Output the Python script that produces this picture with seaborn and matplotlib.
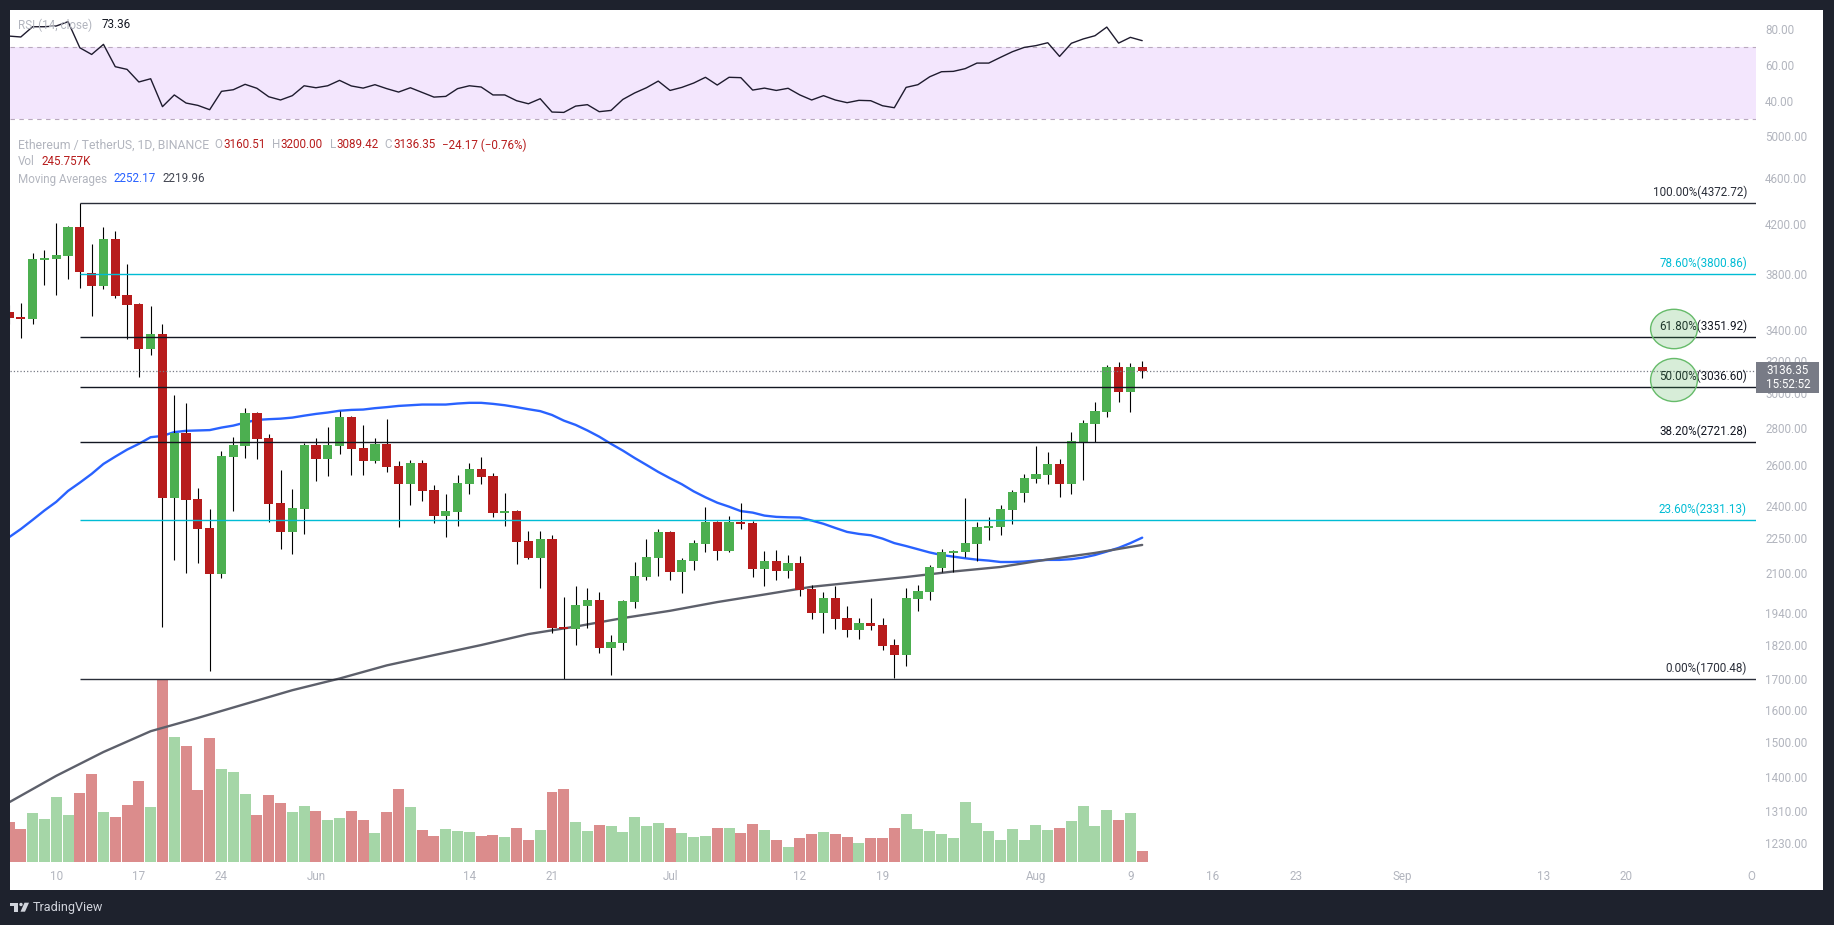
import numpy as np
import pandas as pd
import matplotlib.pyplot as plt
from matplotlib.patches import Rectangle, Ellipse, Polygon
from matplotlib.ticker import NullLocator
from matplotlib.transforms import IdentityTransform
import seaborn as sns

# day 0 is 6 May, one candle per day up to 10 Aug
OPEN = [3525, 3490, 3476, 3908, 3916, 3942, 4173, 3809, 3714, 4074,
        3646, 3582, 3276, 3373, 2437, 2773, 2432, 2296, 2096, 2644,
        2702, 2885, 2745, 2413, 2278, 2385, 2707, 2633, 2702, 2862,
        2692, 2622, 2713, 2597, 2506, 2612, 2476, 2352, 2371, 2506,
        2582, 2546, 2366, 2375, 2238, 2163, 2246, 1887, 1879, 1967,
        1990, 1810, 1827, 1982, 2083, 2163, 2278, 2104, 2150, 2224,
        2324, 2194, 2324, 2319, 2117, 2150, 2108, 2142, 2035, 1940,
        1998, 1920, 1876, 1901, 1894, 1820, 1784, 1994, 2023, 2121,
        2185, 2190, 2224, 2296, 2301, 2380, 2461, 2530, 2551, 2607,
        2506, 2723, 2822, 2891, 3161, 3008, 3160.51]
HIGH = [3570, 3589, 3963, 3987, 4206, 4181, 4372.72, 4034, 4170, 4140,
        3877, 3591, 3567, 3442, 2990, 2943, 2486, 2385, 2675, 2751,
        2914, 2891, 2767, 2576, 2481, 2718, 2745, 2807, 2896, 2868,
        2817, 2745, 2850, 2622, 2628, 2628, 2501, 2456, 2551, 2612,
        2644, 2561, 2461, 2380, 2283, 2283, 2265, 2002, 2047, 2039,
        2023, 1857, 1990, 2146, 2246, 2292, 2280, 2163, 2242, 2394,
        2328, 2352, 2413, 2328, 2194, 2198, 2177, 2172, 2051, 2023,
        2047, 1967, 1920, 1998, 1920, 1842, 2039, 2051, 2134, 2203,
        2198, 2437, 2324, 2347, 2403, 2476, 2556, 2702, 2670, 2633,
        2778, 2845, 2948, 3173, 3192, 3186, 3200.00]
LOW = [3440, 3347, 3444, 3718, 3646, 3763, 3699, 3499, 3692, 3626,
       3341, 3098, 3237, 1887, 2155, 2100, 2142, 1729, 2079, 2375,
       2638, 2633, 2324, 2203, 2181, 2269, 2520, 2546, 2660, 2551,
       2551, 2612, 2566, 2301, 2403, 2422, 2319, 2255, 2305, 2456,
       2506, 2347, 2305, 2138, 2159, 2039, 1864, 1700.48, 1820, 1883,
       1791, 1715, 1803, 1959, 2071, 2087, 2071, 2018, 2113, 2190,
       2155, 2190, 2292, 2083, 2047, 2071, 2079, 2006, 1917, 1864,
       1879, 1850, 1842, 1876, 1803, 1705, 1746, 1948, 1990, 2104,
       2104, 2168, 2150, 2242, 2265, 2314, 2418, 2511, 2506, 2442,
       2456, 2525, 2723, 2862, 2948, 2891, 3089.42]
CLOSE = [3483, 3476, 3914, 3924, 3947, 4173, 3819, 3714, 4074, 3640,
         3574, 3276, 3373, 2437, 2773, 2427, 2292, 2096, 2649, 2707,
         2885, 2740, 2408, 2278, 2389, 2707, 2633, 2707, 2862, 2686,
         2622, 2713, 2592, 2506, 2612, 2471, 2352, 2375, 2511, 2582,
         2541, 2366, 2375, 2233, 2163, 2246, 1883, 1879, 1971, 1990,
         1810, 1831, 1986, 2087, 2168, 2278, 2104, 2155, 2229, 2324,
         2194, 2324, 2314, 2117, 2150, 2108, 2142, 2031, 1940, 1998,
         1917, 1876, 1901, 1890, 1816, 1784, 1998, 2027, 2125, 2190,
         2194, 2229, 2301, 2305, 2385, 2466, 2536, 2556, 2607, 2506,
         2729, 2828, 2896, 3159, 3008, 3161, 3136.35]
VOLUME_K = [914, 753, 1121, 983, 1490, 1075, 1582, 2020, 1144, 1029,
            1306, 1859, 1260, 4201, 2872, 2665, 1651, 2849, 2135, 2066,
            1559, 1075, 1536, 1352, 1144, 1283, 1167, 960, 1006, 1167,
            960, 660, 1144, 1674, 1260, 730, 591, 753, 707, 684,
            591, 614, 568, 776, 499, 730, 1605, 1674, 914, 707,
            845, 822, 684, 1029, 822, 891, 776, 660, 568, 591,
            776, 776, 660, 868, 730, 499, 338, 545, 637, 684,
            637, 568, 430, 545, 545, 776, 1098, 753, 707, 637,
            545, 1375, 891, 707, 499, 753, 499, 845, 730, 776,
            937, 1283, 822, 1190, 960, 1121, 246]
MA50 = [2254, 2291, 2333, 2377, 2418, 2471, 2512, 2556, 2607, 2645,
        2682, 2713, 2749, 2756, 2777, 2784, 2786, 2788, 2802, 2813,
        2830, 2845, 2849, 2852, 2858, 2869, 2879, 2887, 2897, 2902,
        2904, 2912, 2918, 2925, 2929, 2933, 2933, 2933, 2939, 2943,
        2943, 2937, 2929, 2918, 2906, 2895, 2873, 2841, 2817, 2786,
        2752, 2713, 2677, 2638, 2602, 2566, 2534, 2504, 2469, 2440,
        2414, 2395, 2374, 2367, 2353, 2347, 2345, 2344, 2330, 2315,
        2296, 2278, 2269, 2263, 2248, 2228, 2215, 2201, 2187, 2176,
        2169, 2162, 2156, 2152, 2146, 2146, 2148, 2152, 2155, 2155,
        2158, 2165, 2176, 2191, 2207, 2228, 2252.17]
MA200_DAYS = [0, 4, 8, 12, 16, 20, 24, 28, 32, 36, 40, 44, 48, 52, 56, 60,
              64, 68, 72, 76, 80, 84, 88, 92, 96]
MA200 = [1332, 1404, 1472, 1534, 1575, 1619, 1664, 1703, 1748, 1784, 1820,
         1860, 1888, 1920, 1948, 1982, 2012, 2043, 2063, 2083, 2106, 2125,
         2157, 2185, 2219.96]
RSI = [75.9, 75.4, 81.1, 81.1, 81.5, 83.9, 69.4, 65.7, 71.3, 58.9,
       57.4, 50.4, 52.2, 36.7, 43.2, 38.7, 37.4, 35.0, 45.2, 46.1,
       49.1, 46.9, 42.2, 40.4, 42.8, 48.3, 47.2, 48.3, 51.3, 48.2,
       47.0, 48.9, 46.7, 44.8, 47.2, 44.6, 42.0, 42.4, 46.7, 48.3,
       47.6, 43.2, 43.2, 40.0, 38.3, 41.1, 33.7, 33.5, 37.0, 37.8,
       33.9, 34.6, 40.7, 44.3, 47.2, 50.9, 45.7, 47.4, 49.8, 53.0,
       48.7, 53.0, 52.8, 45.9, 47.0, 45.7, 46.9, 43.2, 40.4, 42.8,
       40.4, 38.9, 40.2, 40.0, 37.2, 36.1, 47.4, 48.9, 53.3, 56.1,
       56.3, 57.8, 60.9, 60.9, 64.1, 67.2, 69.6, 70.6, 72.2, 64.6,
       71.9, 74.3, 76.1, 80.9, 72.0, 75.2, 73.36]

FIB_PCT = ["100.00%", "78.60%", "61.80%", "50.00%", "38.20%", "23.60%", "0.00%"]
FIB_LEVELS = [4372.72, 3800.86, 3351.92, 3036.60, 2721.28, 2331.13, 1700.48]
FIB_COLORS = ["#2A2E39", "#00BCD4", "#131722", "#131722", "#131722", "#00BCD4", "#2A2E39"]

PRICE_TICKS = [1230, 1310, 1400, 1500, 1600, 1700, 1820, 1940, 2100, 2250,
               2400, 2600, 2800, 3000, 3200, 3400, 3800, 4200, 4600, 5000]
RSI_TICKS = [40, 60, 80]
DATE_TICKS = [4, 11, 18, 26, 39, 46, 56, 67, 74, 87, 95, 102, 109, 118, 130, 137, 147.6]
DATE_LABELS = ["10", "17", "24", "Jun", "14", "21", "Jul", "12", "19", "Aug",
               "9", "16", "23", "Sep", "13", "20", "O"]

DARK = "#1E222D"
GREY = "#B2B5BE"
RED = "#B71C1C"
GREEN = "#4CAF50"
W, H = 1834, 925

sns.set_theme(style="white")
plt.rcParams["font.family"] = ["Roboto", "DejaVu Sans"]
FS = 8.4


def pane(fig, left, top, right, bottom):
    return fig.add_axes([left / W, 1 - bottom / H, (right - left) / W, (bottom - top) / H])


def label(fig, x, y, s, color=GREY, ha="left", size=FS, **kw):
    fig.text(x / W, 1 - y / H, s, color=color, ha=ha, va="center", fontsize=size, zorder=20, **kw)


days = np.arange(len(CLOSE))
o, h, l, c = map(np.array, (OPEN, HIGH, LOW, CLOSE))
up = c >= o
xlim = (0.083, 148)

fig = plt.figure(figsize=(W / 100, H / 100), dpi=100, facecolor=DARK)
fig.add_artist(Rectangle((10, H - 890), 1813, 880, transform=IdentityTransform(),
                         facecolor="white", edgecolor="none", zorder=0))

# volume sits behind the price pane
axv = pane(fig, 10, 122, 1756, 890)
axv.set_zorder(1)
axv.patch.set_visible(False)
vol = pd.DataFrame({"day": days, "vol": VOLUME_K, "dir": np.where(up, "up", "down")})
sns.barplot(data=vol, x="day", y="vol", hue="dir", palette={"up": "#A5D6A7", "down": "#DB8C8C"},
            native_scale=True, dodge=False, width=0.93, saturation=1, linewidth=0,
            legend=False, ax=axv)
axv.set_xlim(xlim)
axv.set_ylim(-645, 17050)
axv.axis("off")

# price pane
ax = pane(fig, 10, 122, 1756, 890)
ax.set_zorder(2)
ax.patch.set_visible(False)
ax.set_yscale("log")
sns.lineplot(x=days, y=MA50, color="#2962FF", linewidth=1.7, errorbar=None, ax=ax, zorder=2)
sns.lineplot(x=MA200_DAYS, y=MA200, color="#5D606B", linewidth=1.7, errorbar=None, ax=ax, zorder=2)
ax.vlines(days, l, h, color="black", linewidth=0.8, zorder=3)
ax.bar(days, np.abs(c - o), bottom=np.minimum(o, c), width=0.78, linewidth=0,
       color=[GREEN if u else RED for u in up], zorder=4)
ax.hlines(FIB_LEVELS, days[6], xlim[1], colors=FIB_COLORS, linewidth=1.0, zorder=5)
ax.axhline(CLOSE[-1], color="#787B86", linestyle=":", linewidth=0.9, zorder=5)

ax.set_xlim(xlim)
ax.set_ylim(1119.4, 5138)
ax.yaxis.tick_right()
ax.set_yticks(PRICE_TICKS, labels=[f"{t:.2f}" for t in PRICE_TICKS])
ax.yaxis.set_minor_locator(NullLocator())
ax.set_xticks(DATE_TICKS, labels=DATE_LABELS)
ax.tick_params(axis="y", length=0, pad=6.5, labelcolor=GREY, labelsize=FS)
ax.tick_params(axis="x", length=0, pad=-14.5, labelcolor=GREY, labelsize=FS)
ax.set_xlabel("")
ax.set_ylabel("")
for s in ax.spines.values():
    s.set_visible(False)

for pct, lvl, col in zip(FIB_PCT, FIB_LEVELS, FIB_COLORS):
    ax.annotate(f"{pct}({lvl:.2f})", xy=(1, lvl), xycoords=("axes fraction", "data"),
                xytext=(-6.5, 3), textcoords="offset points", ha="right", va="bottom",
                fontsize=FS, color=col, zorder=6)

# RSI pane
axr = pane(fig, 10, 10, 1756, 122)
axr.set_zorder(2)
axr.patch.set_visible(False)
axr.axhspan(30, 70, facecolor="#F3E6FD", edgecolor="none", zorder=1)
axr.axhline(70, color="#B9A9BE", linestyle=(0, (4, 4)), linewidth=0.8, zorder=2)
axr.axhline(30, color="#B9A9BE", linestyle=(0, (4, 4)), linewidth=0.8, zorder=2)
sns.lineplot(x=days, y=RSI, color="#1E1B2E", linewidth=1.0, errorbar=None, ax=axr, zorder=3)
axr.set_xlim(xlim)
axr.set_ylim(28.17, 90.39)
axr.set_xticks([])
axr.yaxis.tick_right()
axr.set_yticks(RSI_TICKS, labels=[f"{t:.2f}" for t in RSI_TICKS])
axr.tick_params(axis="y", length=0, pad=6.5, labelcolor=GREY, labelsize=FS)
axr.set_xlabel("")
axr.set_ylabel("")
for s in axr.spines.values():
    s.set_visible(False)

# green circles round the two fib labels
for cy, ry in [(329, 19.7), (380, 21.5)]:
    fig.add_artist(Ellipse((1674, H - cy), 46.8, 2 * ry, transform=IdentityTransform(),
                           facecolor="#4CAF50", alpha=0.22, edgecolor="none", zorder=10))
    fig.add_artist(Ellipse((1674, H - cy), 46.8, 2 * ry, transform=IdentityTransform(),
                           facecolor="none", edgecolor="#66BB6A", linewidth=1.0, zorder=10))

# last price tag
fig.add_artist(Rectangle((1756, H - 392.7), 63, 30.7, transform=IdentityTransform(),
                         facecolor="#787B86", edgecolor="none", zorder=15))
label(fig, 1766, 370.7, "3136.35", color="white")
label(fig, 1766, 384.7, "15:52:52", color="white")

# header legends
label(fig, 18, 25, "RSI (14, close)")
label(fig, 102, 25, "73.36", color="#131722")
label(fig, 18, 145, "Ethereum / TetherUS, 1D, BINANCE", size=8.8)
for x, s, col in [(214.6, "O", GREY), (223.3, "3160.51", RED), (272, "H", GREY), (280.6, "3200.00", RED),
                  (329.6, "L", GREY), (336, "3089.42", RED), (384.6, "C", GREY), (393, "3136.35", RED),
                  (442, "\u221224.17 (\u22120.76%)", RED)]:
    label(fig, x, 145, s, color=col)
label(fig, 18, 161.7, "Vol")
label(fig, 41.5, 161.7, "245.757K", color=RED)
label(fig, 18, 179, "Moving Averages")
label(fig, 113, 179, "2252.17", color="#2962FF")
label(fig, 162.5, 179, "2219.96", color="#434651")

# TradingView mark in the footer
logo = "#D1D4DC"
fig.add_artist(Polygon([(10, H - 902.7), (18, H - 902.7), (18, H - 911.7), (14, H - 911.7),
                        (14, H - 905.7), (10, H - 905.7)], transform=IdentityTransform(),
                       facecolor=logo, edgecolor="none", zorder=15))
fig.add_artist(Ellipse((21, H - 904.5), 3.4, 3.4, transform=IdentityTransform(),
                       facecolor=logo, edgecolor="none", zorder=15))
fig.add_artist(Polygon([(24.5, H - 902.7), (29, H - 902.7), (25, H - 911.7), (20.5, H - 911.7)],
                       transform=IdentityTransform(), facecolor=logo, edgecolor="none", zorder=15))
label(fig, 33, 907, "TradingView", color=logo, size=9.1)

fig.savefig("out.png", dpi=100, facecolor=DARK)
